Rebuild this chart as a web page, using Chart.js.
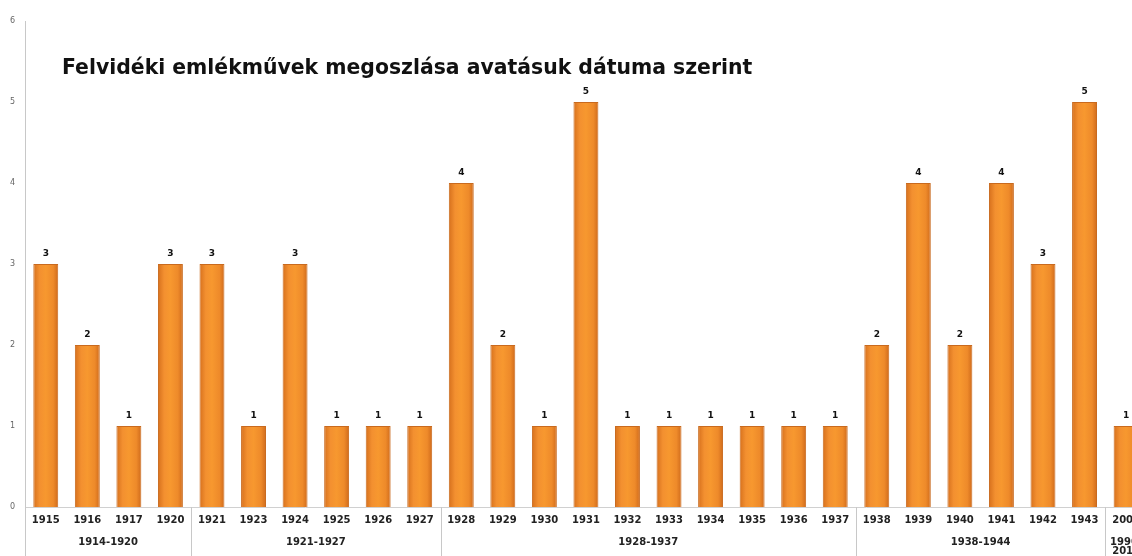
<!DOCTYPE html>
<html lang="hu">
<head>
    <meta charset="UTF-8">
    <title>Felvidéki emlékművek</title>
    <script src="https://cdn.jsdelivr.net/npm/chart.js"></script>
    <style>
        body {
            margin: 0;
            overflow: hidden;
            background: #fff;
        }
        #wrap {
            width: 1147px;
            height: 556px;
        }
    </style>
</head>
<body>
    <div id="wrap">
        <canvas id="monuments" width="1147" height="556"></canvas>
    </div>

    <script>
        // Data
        const years = ['1915', '1916', '1917', '1920',
                       '1921', '1923', '1924', '1925', '1926', '1927',
                       '1928', '1929', '1930', '1931', '1932', '1933', '1934', '1935', '1936', '1937',
                       '1938', '1939', '1940', '1941', '1942', '1943',
                       '2004'];
        const counts = [3, 2, 1, 3,
                        3, 1, 3, 1, 1, 1,
                        4, 2, 1, 5, 1, 1, 1, 1, 1, 1,
                        2, 4, 2, 4, 3, 5,
                        1];
        const groupNames = [['1914-1920'], ['1921-1927'], ['1928-1937'], ['1938-1944'], ['1990-', '2010']];
        const groupSizes = [4, 6, 10, 6, 1];
        const yTicks = [0, 1, 2, 3, 4, 5, 6];
        const title = 'Felvidéki emlékművek megoszlása avatásuk dátuma szerint';

        const barShare = 0.6;
        const fontFamily = '"DejaVu Sans", Verdana, sans-serif';

        // horizontal gradient so each bar looks a bit rounded
        function barFill(c) {
            const chart = c.chart;
            const xs = chart.scales.x;
            if (!chart.chartArea || !xs || c.dataIndex === undefined) return '#f08c2c';
            const cx = xs.getPixelForValue(c.dataIndex);
            const w = xs.width / years.length * barShare;
            const g = chart.ctx.createLinearGradient(cx - w / 2, 0, cx + w / 2, 0);
            g.addColorStop(0, '#d6701d');
            g.addColorStop(0.25, '#f39030');
            g.addColorStop(0.5, '#f7982f');
            g.addColorStop(0.8, '#ee8a2a');
            g.addColorStop(1, '#cf6a1b');
            return g;
        }

        // title, value labels, group labels and separators
        const extras = {
            id: 'extras',
            afterDatasetsDraw(chart) {
                const ctx = chart.ctx;
                const xs = chart.scales.x;
                const area = chart.chartArea;
                const meta = chart.getDatasetMeta(0);
                const step = xs.width / years.length;

                ctx.save();
                // value labels
                ctx.fillStyle = '#111';
                ctx.font = 'bold 9px ' + fontFamily;
                ctx.textAlign = 'center';
                ctx.textBaseline = 'middle';
                meta.data.forEach((bar, i) => {
                    ctx.fillText(String(counts[i]), bar.x, bar.y - 10);
                });

                // title
                ctx.font = 'bold 20.4px ' + fontFamily;
                ctx.textAlign = 'left';
                ctx.textBaseline = 'alphabetic';
                ctx.fillText(title, 62, 74);

                // group separators and labels
                ctx.strokeStyle = '#c8c8c8';
                ctx.lineWidth = 1;
                ctx.font = 'bold 10px ' + fontFamily;
                ctx.textAlign = 'center';
                ctx.textBaseline = 'middle';
                ctx.fillStyle = '#222';
                let start = 0;
                groupSizes.forEach((size, gi) => {
                    const left = xs.getPixelForValue(start) - step / 2;
                    const right = xs.getPixelForValue(start + size - 1) + step / 2;
                    const x = Math.round(left) + 0.5;
                    ctx.beginPath();
                    ctx.moveTo(x, area.bottom);
                    ctx.lineTo(x, chart.height);
                    ctx.stroke();
                    const lines = groupNames[gi];
                    lines.forEach((txt, li) => {
                        ctx.fillText(txt, (left + right) / 2, 542 + li * 9);
                    });
                    start += size;
                });
                ctx.restore();
            }
        };

        new Chart(document.getElementById('monuments').getContext('2d'), {
            type: 'bar',
            data: {
                labels: years,
                datasets: [{
                    data: counts,
                    backgroundColor: barFill,
                    borderColor: '#c96a1e',
                    borderWidth: 1,
                    borderSkipped: 'bottom',
                    barPercentage: barShare,
                    categoryPercentage: 1
                }]
            },
            options: {
                responsive: false,
                animation: false,
                layout: {
                    padding: { top: 21, right: 0, left: 0, bottom: 0 }
                },
                plugins: {
                    legend: { display: false },
                    tooltip: { enabled: false }
                },
                scales: {
                    x: {
                        grid: { display: false, drawTicks: false },
                        border: { color: '#d0d0d0' },
                        ticks: {
                            autoSkip: false,
                            maxRotation: 0,
                            padding: 7,
                            color: '#222',
                            font: { family: fontFamily, size: 10, weight: 'bold' }
                        },
                        afterFit: s => { s.height = 49; }
                    },
                    y: {
                        min: 0,
                        max: 6,
                        grid: { display: false, drawTicks: false },
                        border: { color: '#c8c8c8' },
                        afterBuildTicks: s => { s.ticks = yTicks.map(v => ({ value: v })); },
                        ticks: {
                            padding: 10,
                            color: '#666',
                            font: { family: fontFamily, size: 8 }
                        },
                        afterFit: s => { s.width = 25; }
                    }
                }
            },
            plugins: [extras]
        });
    </script>
</body>
</html>
